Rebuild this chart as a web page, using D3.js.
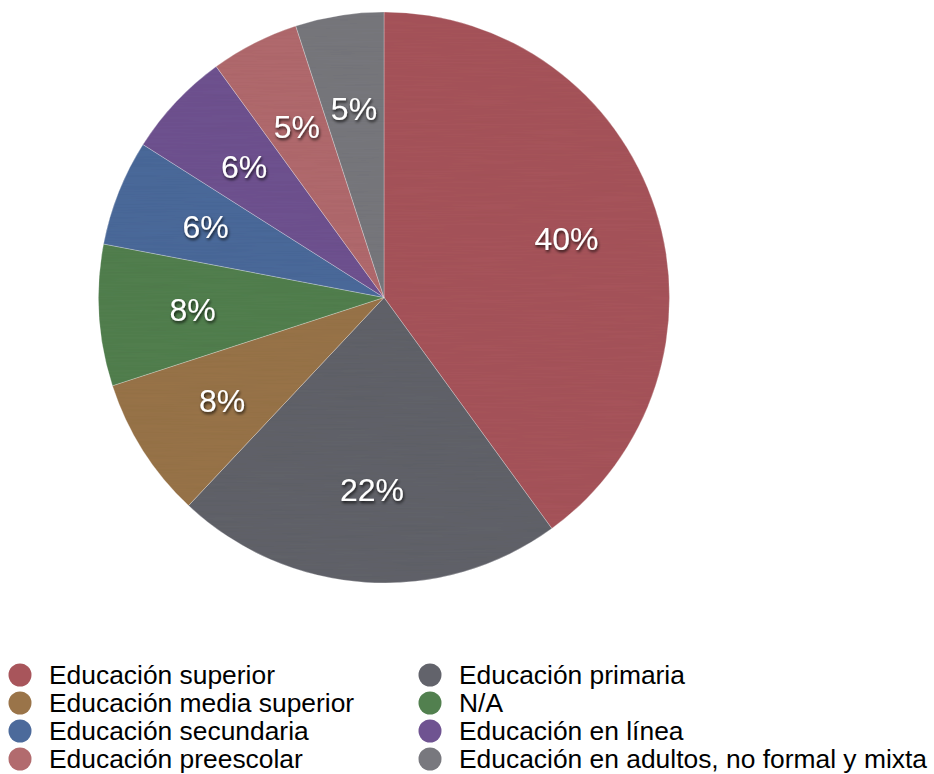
<!DOCTYPE html>
<html>
<head>
<meta charset="utf-8">
<script src="https://cdn.jsdelivr.net/npm/d3@7"></script>
<style>
  html, body { margin: 0; padding: 0; background: #fff; }
  svg { display: block; }
</style>
</head>
<body>
<svg id="chart" width="934" height="774"></svg>
<script>
// Share of respondents by education level
const categories = [
  "Educación superior",
  "Educación primaria",
  "Educación media superior",
  "N/A",
  "Educación secundaria",
  "Educación en línea",
  "Educación preescolar",
  "Educación en adultos, no formal y mixta"
];
const values = [40, 22, 8, 8, 6, 6, 5, 5];
const colors = ["#a8555b", "#62636b", "#9a7449", "#52804f", "#4c6a9b", "#6f5391", "#b26b6e", "#78787e"];

// Legend order: left column then right column
const legendLeft = ["Educación superior", "Educación media superior", "Educación secundaria", "Educación preescolar"];
const legendRight = ["Educación primaria", "N/A", "Educación en línea", "Educación en adultos, no formal y mixta"];

const svg = d3.select("#chart");
const cx = 384, cy = 297.5, R = 285.5;

const color = d3.scaleOrdinal().domain(categories).range(colors);

const defs = svg.append("defs");

// Fine brushed texture laid over the slices
const tex = defs.append("filter").attr("id", "brushed")
  .attr("x", 0).attr("y", 0).attr("width", 1).attr("height", 1);
tex.append("feTurbulence").attr("type", "fractalNoise")
  .attr("baseFrequency", "0.015 0.6").attr("numOctaves", 2).attr("seed", 4).attr("result", "noise");
tex.append("feColorMatrix").attr("in", "noise").attr("type", "matrix")
  .attr("values", "0 0 0 0 0  0 0 0 0 0  0 0 0 0 0  0 0 0 0.10 0")
  .attr("result", "dark");
tex.append("feComposite").attr("in", "dark").attr("in2", "SourceGraphic").attr("operator", "in").attr("result", "darkClip");
tex.append("feMerge").call(m => {
  m.append("feMergeNode").attr("in", "SourceGraphic");
  m.append("feMergeNode").attr("in", "darkClip");
});

// Soft drop shadow for the percentage labels
const sh = defs.append("filter").attr("id", "labelShadow")
  .attr("x", "-20%").attr("y", "-30%").attr("width", "140%").attr("height", "170%");
sh.append("feDropShadow").attr("dx", 1).attr("dy", 2).attr("stdDeviation", 1.4)
  .attr("flood-color", "#000").attr("flood-opacity", 0.75);

const data = categories.map((c, i) => ({ name: c, value: values[i] }));
const pie = d3.pie().value(d => d.value).sort(null);
const arc = d3.arc().innerRadius(0).outerRadius(R);
const labelArc = d3.arc().innerRadius(R * 0.672).outerRadius(R * 0.672);
const arcs = pie(data);

const g = svg.append("g").attr("transform", `translate(${cx},${cy})`);

g.append("g").attr("filter", "url(#brushed)")
  .selectAll("path").data(arcs).join("path")
  .attr("d", arc)
  .attr("fill", d => color(d.data.name))
  .attr("stroke", "rgba(255,255,255,0.45)")
  .attr("stroke-width", 0.6);

g.append("g").selectAll("text").data(arcs).join("text")
  .attr("transform", d => `translate(${labelArc.centroid(d)})`)
  .attr("text-anchor", "middle")
  .attr("dy", "0.36em")
  .attr("font-family", "Liberation Sans, Arial, Helvetica, sans-serif")
  .attr("font-size", 32)
  .attr("fill", "#fff")
  .attr("filter", "url(#labelShadow)")
  .text(d => d.data.value + "%");

// Legend
const rowY = d3.scaleLinear().domain([0, 3]).range([675, 759]);
function legendColumn(items, circleX, textX) {
  const lg = svg.append("g");
  const row = lg.selectAll("g").data(items).join("g")
    .attr("transform", (d, i) => `translate(0,${rowY(i)})`);
  row.append("circle").attr("cx", circleX).attr("cy", 0).attr("r", 11.5)
    .attr("fill", d => color(d));
  row.append("text").attr("x", textX).attr("y", 0).attr("dy", "0.35em")
    .attr("font-family", "Liberation Sans, Arial, Helvetica, sans-serif")
    .attr("font-size", 26.4)
    .attr("fill", "#000")
    .text(d => d);
}
legendColumn(legendLeft, 20, 49);
legendColumn(legendRight, 430, 459);
</script>
</body>
</html>
